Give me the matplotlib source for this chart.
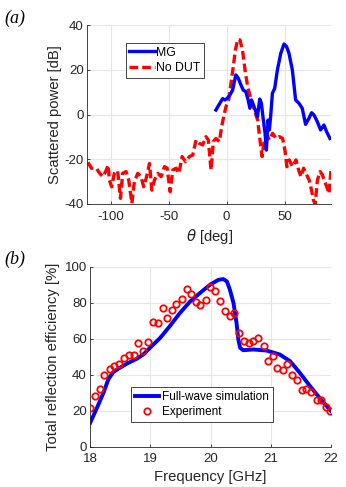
import matplotlib
matplotlib.use("Agg")
import matplotlib.pyplot as plt
import numpy as np

plt.rcParams['font.family'] = ['Liberation Sans', 'DejaVu Sans']
plt.rcParams['axes.unicode_minus'] = False

# ---- Panel (a) data ----
mg_theta = [-9.2, -3.4, -1.4, 0.9, 2.9, 5.2, 8.0, 10.1, 12.4, 14.4, 16.6, 18.6, 20.1, 21.5,
            23.2, 25.2, 26.6, 28.6, 30.0, 31.7, 33.2, 34.3, 35.8, 36.9, 38.1, 39.5, 41.5,
            43.8, 46.7, 49.5, 51.8, 53.8, 56.7, 59.5, 62.4, 65.2, 68.1, 71.0, 73.3, 75.3,
            78.2, 81.0, 83.9, 86.2, 89.1]
mg_db = [2.0, 7.1, 6.5, 7.4, 8.7, 10.9, 17.7, 16.2, 13.2, 10.9, 10.2, 6.5, 2.8, 6.5,
         4.2, 1.3, -1.0, 6.9, 5.0, -2.5, -8.4, -15.9, -2.5, -6.9, -0.2, 9.5, 11.7,
         19.9, 27.3, 31.5, 30.3, 27.3, 19.9, 6.5, 5.0, 2.8, -4.4, -1.7, 0.8, -0.2,
         -3.2, -6.9, -4.7, -7.7, -10.7]

nodut_theta = [-119.4, -116.5, -112.2, -109.3, -106.5, -103.6, -102.0, -101.0, -99.0, -96.7,
               -93.9, -91.4, -89.5, -86.6, -84.3, -81.6, -79.4, -76.5, -73.7, -71.4,
               -69.3, -66.4, -64.4, -62.1, -59.2, -56.4, -53.5, -51.2, -48.6, -46.3,
               -43.4, -41.1, -38.3, -35.4, -32.0, -29.1, -26.3, -23.4, -20.6, -17.7,
               -15.7, -13.4, -11.4, -9.1, -6.2, -4.2, -2.5, -0.5, 1.8, 3.8,
               5.8, 7.6, 9.6, 11.6, 13.9, 15.9, 18.2, 21.1, 23.9, 26.8,
               28.8, 30.6, 32.6, 34.9, 36.9, 39.7, 42.6, 45.5, 48.3, 50.3,
               52.0, 54.1, 56.9, 59.8, 62.1, 64.1, 66.4, 68.4, 71.2, 73.2,
               74.9, 76.3, 78.3, 80.6, 82.6, 84.6, 86.3, 88.3, 90.0]
nodut_db = [-21.4, -24.0, -24.0, -26.3, -27.8, -24.8, -22.6, -29.3, -32.3, -26.3,
            -25.1, -37.5, -26.3, -25.5, -29.3, -39.7, -30.0, -26.3, -27.8, -32.3,
            -28.6, -21.9, -33.8, -29.3, -26.3, -27.8, -23.3, -24.0, -34.5, -24.8,
            -24.0, -26.3, -18.8, -21.1, -18.8, -18.1, -11.4, -12.9, -13.6, -9.9,
            -11.4, -24.8, -12.1, -10.7, -12.1, -5.4, -1.0, 3.5, 6.5, 13.9,
            21.4, 28.8, 33.6, 33.3, 28.1, 19.9, 12.4, 6.5, 2.0, -2.5,
            -11.4, -18.8, -11.4, -9.2, -11.4, -8.4, -10.7, -9.9, -10.7, -15.9,
            -23.3, -20.3, -23.3, -20.3, -24.8, -27.8, -24.0, -26.3, -29.3, -33.8,
            -38.3, -40.0, -29.3, -25.5, -27.0, -30.0, -32.3, -35.3, -24.8]

# ---- Panel (b) data ----
sim_f = [18.0, 18.1, 18.22, 18.3, 18.38, 18.49, 18.6, 18.77, 18.88, 18.99, 19.16, 19.32,
         19.49, 19.66, 19.82, 19.99, 20.13, 20.21, 20.27, 20.32, 20.38, 20.43, 20.46,
         20.49, 20.54, 20.71, 20.93, 21.15, 21.32, 21.48, 21.65, 21.82, 22.0]
sim_eff = [13.3, 20.7, 29.9, 37.3, 41.3, 43.7, 45.9, 48.7, 51.1, 54.8, 60.3, 66.8,
           74.2, 80.6, 85.2, 89.9, 92.6, 93.0, 91.7, 87.1, 79.7, 68.6, 59.4,
           54.8, 53.5, 53.9, 53.3, 51.1, 47.4, 41.0, 33.6, 26.6, 19.7]

exp_f = [18.0, 18.08, 18.16, 18.23, 18.32, 18.40, 18.48, 18.56, 18.64, 18.72, 18.80, 18.88,
         18.96, 19.04, 19.12, 19.20, 19.28, 19.36, 19.43, 19.52, 19.60, 19.67, 19.76, 19.83,
         19.92, 19.99, 20.07, 20.16, 20.24, 20.32, 20.39, 20.47, 20.55, 20.63, 20.71, 20.79,
         20.88, 20.95, 21.03, 21.11, 21.20, 21.27, 21.35, 21.43, 21.51, 21.59, 21.67, 21.76,
         21.83, 21.92, 21.99]
exp_eff = [21.6, 28.0, 32.1, 39.7, 42.8, 45.0, 46.1, 49.4, 50.6, 50.9, 57.6, 52.8,
           58.3, 69.4, 68.6, 76.9, 71.4, 76.0, 79.3, 81.9, 87.5, 84.7, 80.3, 78.8,
           81.5, 88.4, 86.5, 80.6, 75.3, 72.7, 74.0, 63.1, 58.5, 57.4, 58.5, 60.3,
           55.7, 47.6, 50.2, 43.4, 42.4, 45.9, 39.5, 36.7, 31.4, 31.7, 30.4, 26.0,
           26.0, 22.1, 19.9]

x_ticks_a = [-100, -50, 0, 50]
y_ticks_a = [-40, -20, 0, 20, 40]
x_ticks_b = [18, 19, 20, 21, 22]
y_ticks_b = [0, 20, 40, 60, 80, 100]

W, H = 346, 487
fig = plt.figure(figsize=(W / 100, H / 100), dpi=100)

axc = '#262626'
gridc = '#e6e6e6'


def style(ax):
    for s in ['top', 'right']:
        ax.spines[s].set_visible(False)
    for s in ['left', 'bottom']:
        ax.spines[s].set_color(axc)
        ax.spines[s].set_linewidth(0.6)
    ax.tick_params(direction='in', length=2.5, width=0.6, colors=axc, labelsize=9.5)
    ax.tick_params(axis='x', pad=5)
    ax.tick_params(axis='y', pad=2.5)
    ax.grid(True, color=gridc, linewidth=0.8)
    ax.set_axisbelow(True)


ax1 = fig.add_axes([87.3 / W, 1 - 204 / H, (331 - 87.3) / W, (204 - 25) / H])
style(ax1)
ax1.plot(mg_theta, mg_db, color='#0000ff', lw=2.4, label='MG', zorder=3)
ax1.plot(nodut_theta, nodut_db, color='#ff0000', lw=2.4, ls=(0, (2.6, 1.2)),
         label='No DUT', zorder=2)
ax1.set_xlim(-120, 90)
ax1.set_ylim(-40, 40)
ax1.set_xticks(x_ticks_a)
ax1.set_yticks(y_ticks_a)
ax1.set_xlabel(r'$\theta$ [deg]', fontsize=10.7, color=axc, labelpad=3)
ax1.set_ylabel('Scattered power [dB]', fontsize=10.7, color=axc, labelpad=2)
leg1 = ax1.legend(loc='upper left', bbox_to_anchor=(0.158, 0.9), fontsize=8.8,
                  handlelength=2.1, handletextpad=0.1, borderpad=0.3, labelspacing=0.3,
                  fancybox=False, framealpha=1, edgecolor='#262626', borderaxespad=0)
leg1.get_frame().set_linewidth(0.6)

ax2 = fig.add_axes([90.3 / W, 1 - 446.5 / H, (331 - 90.3) / W, (446.5 - 266.5) / H])
style(ax2)
ax2.plot(sim_f, sim_eff, color='#0000ff', lw=2.8, label='Full-wave simulation', zorder=2)
ax2.plot(exp_f, exp_eff, ls='none', marker='o', ms=4.6, mfc='none', mec='#ff0000',
         mew=1.3, label='Experiment', zorder=3)
ax2.set_xlim(18, 22)
ax2.set_ylim(0, 100)
ax2.set_xticks(x_ticks_b)
ax2.set_yticks(y_ticks_b)
ax2.set_xlabel('Frequency [GHz]', fontsize=10.7, color=axc, labelpad=3)
ax2.set_ylabel('Total reflection efficiency [%]', fontsize=10.7, color=axc, labelpad=3)
leg2 = ax2.legend(loc='lower left', bbox_to_anchor=(0.169, 0.134), fontsize=8.5,
                  handlelength=2.0, handletextpad=0.25, borderpad=0.35, labelspacing=0.25,
                  fancybox=False, framealpha=1, edgecolor='#262626', borderaxespad=0)
leg2.get_frame().set_linewidth(0.6)

fig.text(4 / W, 1 - 18 / H, '(a)', fontsize=13, family=['Liberation Serif', 'DejaVu Serif'],
         style='italic', va='center', ha='left')
fig.text(4 / W, 1 - 259 / H, '(b)', fontsize=13, family=['Liberation Serif', 'DejaVu Serif'],
         style='italic', va='center', ha='left')

fig.savefig('out.png', dpi=100)
